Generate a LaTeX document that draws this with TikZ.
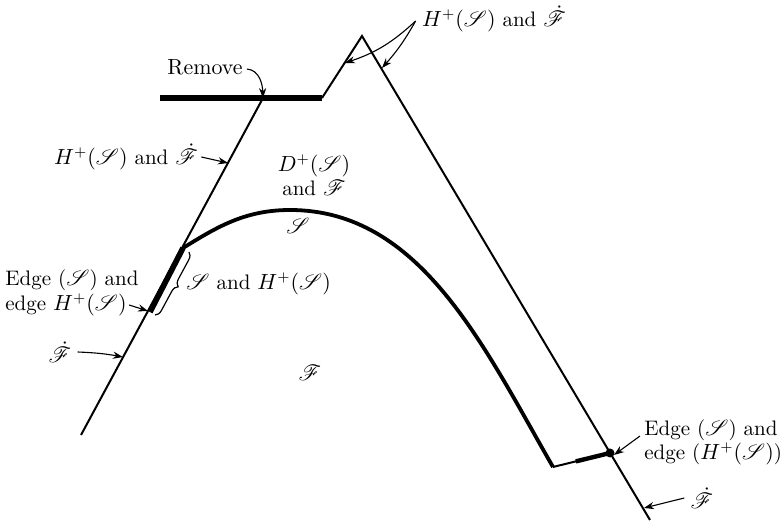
\documentclass[tikz,border=0pt]{standalone}
\usepackage{mathrsfs}
\usetikzlibrary{arrows.meta,decorations.pathreplacing,calc}
\begin{document}
\begin{tikzpicture}[x=0.5pt,y=-0.5pt,
  thinline/.style={line width=1pt},
  heavy/.style={line width=2.8pt},
  curveline/.style={line width=1.9pt},
  arr/.style={line width=0.55pt,-{Stealth[length=5pt,width=3.6pt]}},
  lbl/.style={font=\fontsize{10.5}{12}\selectfont, inner sep=0pt},
  ]
\useasboundingbox (0,0) rectangle (784,524);
% key points
\coordinate (A) at (362,36);
\coordinate (Bl) at (322,98);
\coordinate (Tl) at (160,98);
\coordinate (P) at (263,98);
\coordinate (Q) at (81,435);
\coordinate (R) at (650,520);
\coordinate (C) at (553,467);
\coordinate (D) at (610,453);
\coordinate (S0) at (183,248);
\coordinate (E1) at (150,312);
\coordinate (Stop) at (290,210);
% main lines
\draw[thinline] (Q) -- (P);
\draw[heavy] (Tl) -- (Bl);
\draw[thinline, line join=miter] (Bl) -- (A) -- (R);
\draw[heavy] (S0) -- (E1);
\draw[curveline] (S0) .. controls (217,227) and (245,210) .. (Stop)
  .. controls (420,210) and (483,345) .. (C);
\draw[thinline] (C) -- ($(C)!0.42!(D)$);
\draw[line width=2.2pt] ($(C)!0.40!(D)$) -- (D);
\fill (D) circle (4.5);
% brace
\coordinate (brT) at (189,252);
\coordinate (brB) at (155,315);
\draw[line width=0.6pt, decorate, decoration={brace, amplitude=3.5pt}] (brT) -- (brB);
% targets on lines
\coordinate (tL) at (345,63);
\coordinate (tR) at (382,68);
\coordinate (tH) at (228,163);
\coordinate (tE) at (148,311);
\coordinate (tF) at (123,357);
\coordinate (tFR) at (644,508);
% labels
\node[lbl, font=\fontsize{10.95}{12}\selectfont] (remove) at (205,67) {Remove};
\node[lbl] (toplbl) at (494,19) {$H^+(\mathscr S)$ and $\dot{\mathscr F}$};
\node[lbl] (hleft) at (126,157) {$H^+(\mathscr S)$ and $\dot{\mathscr F}$};
\node[lbl, align=center] (dplus) at (314,175) {$D^+(\mathscr S)$\\and $\mathscr F$};
\node[lbl] (slbl) at (298,226) {$\mathscr S$};
\node[lbl, anchor=west] (brlbl) at (186,284) {$\mathscr S$ and $H^+(\mathscr S)$};
\node[lbl, anchor=west] (edgeLa) at (5,280) {Edge ($\mathscr S$) and};
\node[lbl, anchor=west] (edgeLb) at (5,305) {edge $H^+(\mathscr S)$};
\node[lbl] (fdotL) at (60,352) {$\dot{\mathscr F}$};
\node[lbl] (fmid) at (310,373) {$\mathscr F$};
\node[lbl, anchor=west] (edgeRa) at (644,430) {Edge ($\mathscr S$) and};
\node[lbl, anchor=west] (edgeRb) at (644,454) {edge ($H^+(\mathscr S)$)};
\node[lbl] (fdotR) at (702,498) {$\dot{\mathscr F}$};
% arrows
\draw[arr] ([xshift=2pt,yshift=-1pt]remove.east) to[out=-5,in=92] (P);
\draw[arr] ([xshift=-3pt,yshift=-1pt]toplbl.west) to[bend left=12] (tL);
\draw[arr] ([xshift=-3pt,yshift=-1pt]toplbl.west) to[bend left=6] (tR);
\draw[arr] ([xshift=1.5pt]hleft.east) -- (tH);
\draw[arr] ([xshift=1pt]edgeLb.east) -- (tE);
\draw[arr] ([xshift=3pt]fdotL.east) to[bend left=4] (tF);
\draw[arr] ([xshift=-2pt,yshift=-3pt]edgeRa.west) -- ([xshift=2pt,yshift=-1pt]D);
\draw[arr] ([xshift=-3pt]fdotR.west) -- (tFR);
\end{tikzpicture}
\end{document}
